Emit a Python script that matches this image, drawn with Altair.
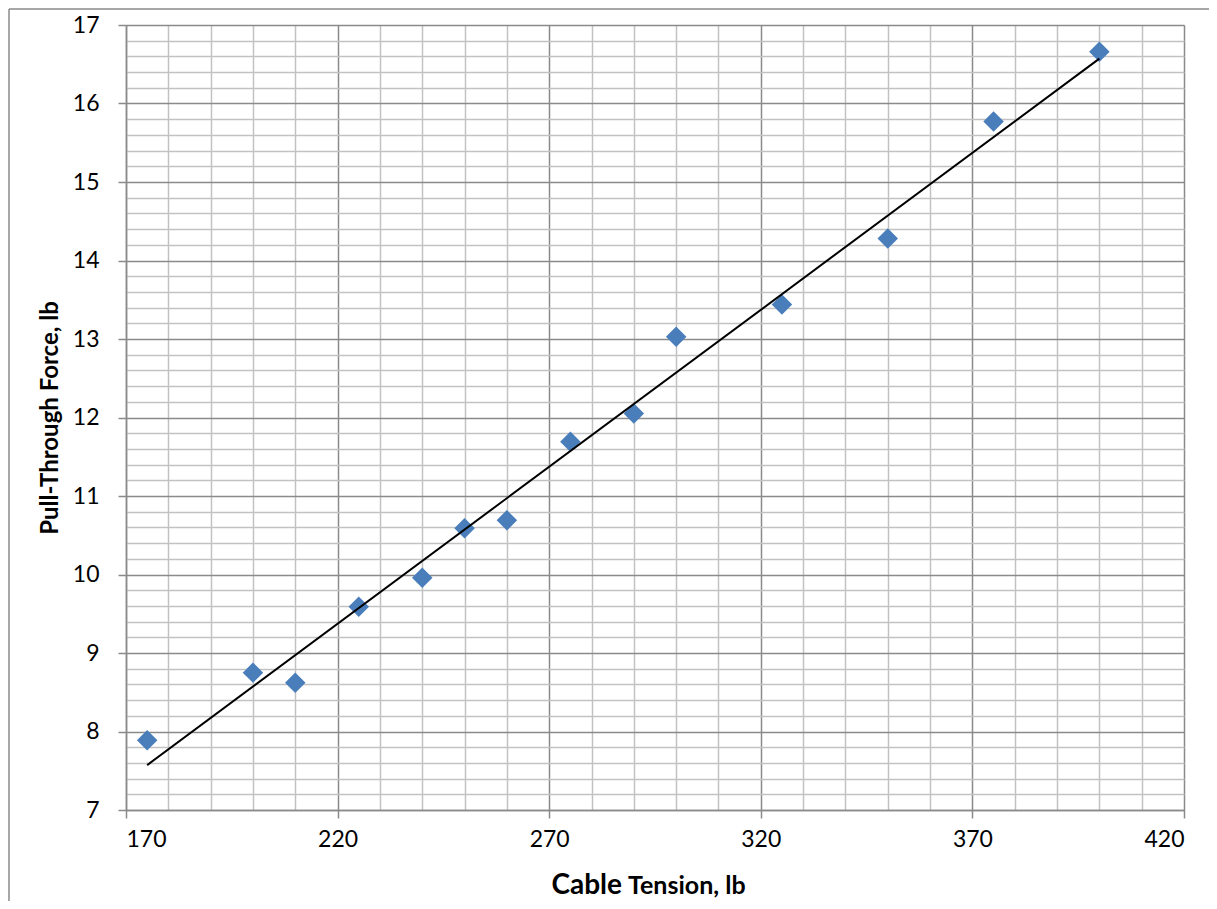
import altair as alt
import pandas as pd

# Data
cable_tension = [175, 200, 210, 225, 240, 250, 260, 275, 290, 300, 325, 350, 375, 400]
pull_force = [7.89, 8.75, 8.62, 9.59, 9.96, 10.59, 10.69, 11.69, 12.05, 13.03, 13.44, 14.28, 15.77, 16.66]

x_ticks = list(range(170, 421, 10))          # minor grid every 10, majors at 170,220,...
y_ticks = [round(7 + 0.2 * i, 1) for i in range(51)]  # minor grid every 0.2, majors at integers

x_title_big = "Cable"
x_title_small = "Tension, lb"
y_title = "Pull-Through Force, lb"

FONT = "Lato"
MAJOR = "#8a8a8a"
MINOR = "#c2c2c2"

df = pd.DataFrame({"tension": cable_tension, "force": pull_force})

x_major_test = "datum.value % 50 == 20"
y_major_test = "abs(datum.value - round(datum.value)) < 0.001"

x_axis = alt.Axis(
    values=x_ticks,
    tickCount=len(x_ticks),
    labelExpr=f"{x_major_test} ? format(datum.value, 'd') : ''",
    labelOverlap=False,
    labelFont=FONT, labelFontSize=23, labelColor="black", labelPadding=10,
    grid=True,
    gridColor={"condition": {"test": x_major_test, "value": MAJOR}, "value": MINOR},
    gridWidth=1.5,
    tickSize=8, tickWidth=1.5, tickColor=MAJOR,
    tickOpacity={"condition": {"test": x_major_test, "value": 1}, "value": 0},
    domainColor=MAJOR, domainWidth=1.5,
    title=None,
)

y_axis = alt.Axis(
    values=y_ticks,
    tickCount=len(y_ticks),
    labelExpr=f"{y_major_test} ? format(datum.value, 'd') : ''",
    labelOverlap=False,
    labelFont=FONT, labelFontSize=23, labelColor="black", labelPadding=19,
    grid=True,
    gridColor={"condition": {"test": y_major_test, "value": MAJOR}, "value": MINOR},
    gridWidth=1.5,
    tickSize=8, tickWidth=1.5, tickColor=MAJOR,
    tickOpacity={"condition": {"test": y_major_test, "value": 1}, "value": 0},
    domainColor=MAJOR, domainWidth=1.5,
    title=y_title, titleFont=FONT, titleFontSize=24, titleFontWeight="bold",
    titleColor="black", titleX=-76, titleY=392.5, titleBaseline="middle", titleAngle=270,
)

x_enc = alt.X("tension:Q", scale=alt.Scale(domain=[170, 420], nice=False, zero=False), axis=x_axis)
y_enc = alt.Y("force:Q", scale=alt.Scale(domain=[7, 17], nice=False, zero=False), axis=y_axis)

points = alt.Chart(df).mark_point(
    shape="diamond", filled=True, size=420, color="#4a7ebb", opacity=1
).encode(x=x_enc, y=y_enc)

trend = alt.Chart(df).transform_regression(
    "tension", "force", method="linear"
).mark_line(color="black", strokeWidth=2).encode(
    x=alt.X("tension:Q"), y=alt.Y("force:Q")
)

title_big = alt.Chart(pd.DataFrame({"t": [x_title_big]})).mark_text(
    font=FONT, fontSize=28, fontWeight="bold", color="black", align="right", baseline="alphabetic"
).encode(x=alt.value(496), y=alt.value(869), text="t:N")

title_small = alt.Chart(pd.DataFrame({"t": [x_title_small]})).mark_text(
    font=FONT, fontSize=25, fontWeight="bold", color="black", align="left", baseline="alphabetic"
).encode(x=alt.value(502), y=alt.value(869), text="t:N")

border_left = alt.Chart(pd.DataFrame({"a": [0]})).mark_rule(color="#8a8a8a", strokeWidth=1.5).encode(
    x=alt.value(-117), y=alt.value(-16), y2=alt.value(880)
)
border_top = alt.Chart(pd.DataFrame({"a": [0]})).mark_rule(color="#8a8a8a", strokeWidth=1.5).encode(
    x=alt.value(-117), x2=alt.value(1090), y=alt.value(-16)
)

chart = alt.layer(points, trend, title_big, title_small, border_left, border_top).properties(
    width=1058, height=785,
    autosize=alt.AutoSizeParams(type="none"),
    padding={"left": 118, "top": 17, "right": 25, "bottom": 91},
).configure_view(stroke=None).configure(background="white")

chart.save("out.html", embed_options={"renderer": "svg", "actions": False})
